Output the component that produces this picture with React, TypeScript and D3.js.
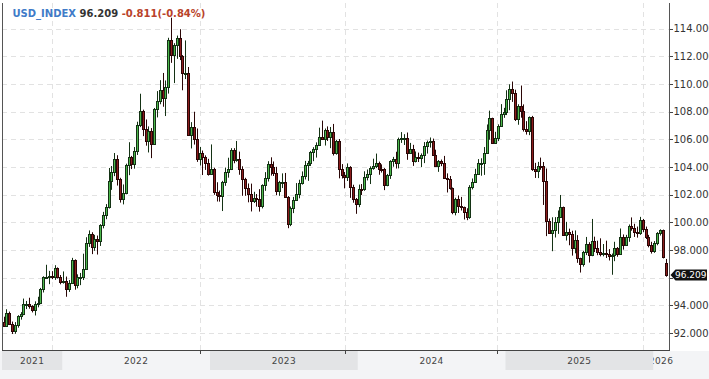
import React from 'react';
import * as d3 from 'd3';

const W = 709;
const H = 379;

// Weekly USD_INDEX candles, Aug 2021 -> Jan 2026
const opens = [
  // 2021
  92.80, 92.52, 93.46, 92.69, 92.13, 92.62, 93.25, 93.38, 94.08, 94.12, 93.94, 93.66, 94.10, 94.20, 95.16, 96.05, 96.08, 96.15, 96.09, 96.70, 96.05,
  // 2022
  95.67, 95.74, 95.17, 95.64, 97.27, 95.48, 96.05, 96.05, 96.62, 98.51, 99.13, 98.21, 98.79, 98.63, 99.79, 100.50, 101.12, 102.96, 103.66, 104.56, 103.15, 101.66, 102.14, 104.15, 104.69, 104.21, 105.14, 107.01, 108.07, 106.73, 105.85, 106.61, 105.66, 108.16, 108.80, 109.54, 109.00, 109.76, 113.19, 112.12, 112.80, 113.30, 111.99, 110.76, 110.80, 106.30, 106.92, 106.00, 104.55, 104.99, 104.73, 104.30,
  // 2023
  103.52, 103.89, 102.20, 101.99, 101.92, 102.92, 103.63, 103.87, 105.22, 104.52, 104.58, 103.86, 103.12, 102.51, 102.08, 101.55, 101.78, 101.66, 101.21, 102.68, 103.20, 104.20, 104.02, 103.56, 102.26, 102.91, 102.91, 101.87, 99.91, 101.07, 101.62, 102.02, 102.85, 103.38, 104.15, 104.26, 105.06, 105.32, 105.58, 106.17, 106.04, 106.66, 106.16, 106.56, 105.02, 105.86, 103.87, 103.39, 103.27, 104.01, 102.56, 101.71,
  // 2024
  101.33, 102.42, 102.39, 103.29, 103.47, 103.92, 104.10, 104.28, 103.89, 103.86, 102.71, 103.43, 104.43, 104.55, 104.30, 106.04, 106.09, 106.09, 105.03, 105.30, 104.46, 104.72, 104.67, 104.89, 105.55, 105.80, 105.87, 104.88, 104.09, 104.40, 104.32, 103.21, 103.14, 102.45, 100.72, 101.70, 101.18, 101.11, 100.73, 100.38, 102.52, 102.90, 103.49, 104.26, 104.28, 104.99, 106.69, 107.55, 105.74, 106.06, 106.99, 107.80,
  // 2025
  108.00, 108.92, 109.65, 109.35, 107.44, 108.37, 108.04, 106.71, 106.62, 107.61, 103.84, 103.72, 104.09, 104.04, 103.02, 100.10, 99.23, 99.47, 100.03, 100.42, 101.09, 99.11, 99.33, 99.19, 98.18, 98.71, 97.40, 96.97, 97.85, 98.46, 97.65, 98.69, 98.18, 97.85, 97.72, 97.77, 97.73, 97.55, 97.65, 98.15, 97.72, 98.98, 98.40, 98.94, 99.75, 99.60, 99.30, 99.20, 100.15, 99.50, 98.95, 98.35,
  // 2026
  97.95, 98.50, 99.20, 99.42, 97.10,
];

const highs = [
  93.19, 93.73, 93.56, 92.84, 92.80, 93.30, 93.52, 94.50, 94.33, 94.56, 94.02, 94.30, 94.63, 95.27, 96.11, 96.94, 96.50, 96.48, 96.91, 96.75, 96.20,
  96.46, 96.09, 95.84, 97.44, 97.33, 96.25, 96.35, 97.74, 98.93, 99.42, 99.29, 99.10, 99.05, 99.87, 100.76, 101.32, 103.93, 104.07, 105.01, 104.85, 103.22, 102.74, 104.24, 105.79, 104.80, 105.44, 107.27, 109.29, 108.14, 107.43, 106.93, 106.81, 108.26, 109.48, 110.27, 110.79, 110.25, 113.33, 114.78, 112.94, 113.49, 113.95, 112.08, 113.14, 111.22, 107.24, 107.99, 106.78, 105.45, 105.19, 104.84, 104.59,
  105.63, 103.95, 102.90, 102.30, 103.00, 103.96, 104.67, 105.36, 105.36, 105.88, 105.11, 104.05, 103.22, 102.81, 102.80, 102.21, 102.05, 102.40, 102.75, 103.63, 104.42, 104.70, 104.40, 104.01, 103.00, 103.54, 103.57, 101.90, 101.15, 101.84, 102.84, 103.08, 103.68, 104.44, 104.44, 105.16, 105.43, 105.78, 106.84, 107.35, 106.78, 106.93, 106.89, 107.11, 105.95, 106.02, 104.21, 103.64, 104.26, 104.06, 102.72, 101.76,
  102.73, 102.77, 103.69, 103.82, 104.05, 104.60, 104.97, 104.39, 104.19, 103.92, 103.50, 104.49, 104.73, 105.10, 106.12, 106.52, 106.37, 106.49, 105.74, 105.60, 105.12, 105.04, 104.98, 105.80, 105.91, 106.13, 106.05, 105.25, 104.50, 104.54, 104.80, 103.54, 103.35, 102.52, 101.78, 101.95, 101.84, 101.14, 101.02, 102.69, 103.17, 103.87, 104.57, 104.63, 105.44, 107.07, 108.07, 107.56, 106.54, 107.08, 108.54, 108.27,
  109.54, 109.97, 110.17, 109.58, 108.53, 109.88, 108.52, 107.31, 107.65, 107.69, 104.30, 104.37, 104.68, 104.36, 103.89, 100.28, 100.37, 100.38, 100.86, 101.98, 101.14, 100.04, 99.55, 99.40, 99.42, 99.08, 97.45, 97.95, 98.95, 98.57, 100.25, 98.97, 98.68, 98.85, 98.44, 98.68, 98.07, 97.75, 98.60, 98.22, 99.56, 99.13, 99.10, 99.85, 100.36, 99.90, 99.70, 100.40, 100.25, 99.70, 99.10, 98.60,
  98.65, 99.30, 99.50, 99.48, 97.36,
];

const lows = [
  92.48, 92.47, 92.62, 91.94, 91.96, 92.40, 92.98, 93.30, 93.74, 93.77, 93.50, 93.28, 93.87, 94.10, 94.94, 95.96, 95.54, 95.90, 95.85, 95.95, 95.53,
  95.58, 94.63, 94.98, 95.55, 95.14, 95.24, 95.47, 95.84, 96.60, 98.23, 97.71, 97.95, 97.68, 98.30, 99.57, 100.23, 101.00, 102.35, 103.34, 102.66, 101.43, 101.30, 102.03, 103.41, 103.85, 103.88, 104.87, 106.88, 106.23, 105.54, 105.05, 104.64, 105.60, 107.58, 108.53, 108.35, 107.68, 109.30, 111.52, 110.06, 111.81, 111.72, 109.54, 110.35, 106.27, 105.34, 105.62, 104.37, 104.11, 103.42, 103.79, 103.38,
  103.48, 101.99, 101.51, 101.50, 100.82, 102.64, 103.23, 103.78, 104.27, 104.38, 103.44, 101.92, 101.92, 101.45, 100.79, 101.40, 101.14, 100.78, 101.01, 102.28, 102.95, 103.38, 103.35, 101.97, 101.92, 102.48, 101.84, 99.58, 99.73, 100.67, 101.60, 101.74, 102.73, 103.10, 103.00, 104.07, 104.42, 104.68, 105.52, 106.02, 105.55, 105.88, 105.36, 104.83, 104.89, 103.18, 103.17, 102.46, 102.99, 101.77, 101.42, 100.62,
  101.10, 101.98, 102.28, 103.03, 102.77, 103.80, 103.92, 103.44, 103.60, 102.33, 102.61, 103.14, 104.02, 103.89, 103.90, 105.74, 105.59, 104.52, 104.96, 104.08, 104.33, 104.36, 103.99, 104.28, 104.97, 105.40, 104.82, 104.08, 103.65, 104.06, 103.17, 102.16, 102.36, 100.59, 100.51, 100.68, 100.86, 100.21, 100.16, 100.26, 102.38, 102.86, 103.45, 103.37, 103.43, 104.98, 105.97, 105.72, 105.69, 105.87, 106.95, 107.55,
  107.75, 108.10, 108.70, 107.32, 107.05, 107.56, 106.56, 106.34, 106.30, 103.72, 103.21, 103.20, 103.80, 101.26, 99.01, 99.20, 97.92, 98.91, 99.17, 100.39, 99.05, 98.69, 98.35, 97.60, 97.77, 97.08, 96.38, 96.81, 97.64, 97.10, 97.56, 97.86, 97.63, 97.55, 97.55, 97.43, 97.25, 96.22, 97.20, 97.52, 97.65, 98.03, 98.33, 98.60, 99.40, 98.95, 98.90, 99.10, 99.30, 98.80, 98.20, 97.75,
  97.80, 98.35, 99.05, 97.40, 96.08,
];

const closes = [
  92.52, 93.46, 92.69, 92.13, 92.62, 93.25, 93.38, 94.08, 94.12, 93.94, 93.66, 94.10, 94.20, 95.16, 96.05, 96.08, 96.15, 96.09, 96.70, 96.05, 95.67,
  95.74, 95.17, 95.64, 97.27, 95.48, 96.05, 96.05, 96.62, 98.51, 99.13, 98.21, 98.79, 98.63, 99.79, 100.50, 101.12, 102.96, 103.66, 104.56, 103.15, 101.66, 102.14, 104.15, 104.69, 104.21, 105.14, 107.01, 108.07, 106.73, 105.85, 106.61, 105.66, 108.16, 108.80, 109.54, 109.00, 109.76, 113.19, 112.12, 112.80, 113.30, 111.99, 110.76, 110.80, 106.30, 106.92, 106.00, 104.55, 104.99, 104.73, 104.30, 103.52,
  103.89, 102.20, 101.99, 101.92, 102.92, 103.63, 103.87, 105.22, 104.52, 104.58, 103.86, 103.12, 102.51, 102.08, 101.55, 101.78, 101.66, 101.21, 102.68, 103.20, 104.20, 104.02, 103.56, 102.26, 102.91, 102.91, 101.87, 99.91, 101.07, 101.62, 102.02, 102.85, 103.38, 104.15, 104.26, 105.06, 105.32, 105.58, 106.17, 106.04, 106.66, 106.16, 106.56, 105.02, 105.86, 103.87, 103.39, 103.27, 104.01, 102.56, 101.71, 101.33,
  102.42, 102.39, 103.29, 103.47, 103.92, 104.10, 104.28, 103.89, 103.86, 102.71, 103.43, 104.43, 104.55, 104.30, 106.04, 106.09, 106.09, 105.03, 105.30, 104.46, 104.72, 104.67, 104.89, 105.55, 105.80, 105.87, 104.88, 104.09, 104.40, 104.32, 103.21, 103.14, 102.45, 100.72, 101.70, 101.18, 101.11, 100.73, 100.38, 102.52, 102.90, 103.49, 104.26, 104.28, 104.99, 106.69, 107.55, 105.74, 106.06, 106.99, 107.80, 108.00,
  108.92, 109.65, 109.35, 107.44, 108.37, 108.04, 106.71, 106.62, 107.61, 103.84, 103.72, 104.09, 104.04, 103.02, 100.10, 99.23, 99.47, 100.03, 100.42, 101.09, 99.11, 99.33, 99.19, 98.18, 98.71, 97.40, 96.97, 97.85, 98.46, 97.65, 98.69, 98.18, 97.85, 97.72, 97.77, 97.73, 97.55, 97.65, 98.15, 97.72, 98.98, 98.40, 98.94, 99.75, 99.60, 99.30, 99.20, 100.15, 99.50, 98.95, 98.35, 97.95,
  98.50, 99.20, 99.42, 97.50, 96.209,
];

const yTicks = [92, 94, 96, 98, 100, 102, 104, 106, 108, 110, 112, 114];
const yearLabels = ['2021', '2022', '2023', '2024', '2025', '2026'];
const yearStartIdx = [0, 21, 73, 125, 177, 229];
const vGridIdx = [17, 69, 120, 173.5, 225];

const symbol = 'USD_INDEX';
const lastPrice = '96.209';
const change = '-0.811(-0.84%)';

const PL = 2, PR = 669, PT = 3, PB = 350;

export default function App() {
  const n = closes.length;
  const x = d3.scaleLinear().domain([0, n - 1]).range([4, 666]);
  const y = d3.scaleLinear().domain([92, 114]).range([333.2, 28.5]);
  const fmt = d3.format('.3f');

  const bands = yearLabels.map((lab, k) => {
    const s = yearStartIdx[k];
    const x0 = k === 0 ? PL : (x(s - 1) + x(s)) / 2;
    const last = k === yearLabels.length - 1;
    const x1 = last ? PR : (x(yearStartIdx[k + 1] - 1) + x(yearStartIdx[k + 1])) / 2;
    return { lab, x0, x1, clipX1: last ? W : x1, dark: k % 2 === 0 };
  });

  const lastY = y(closes[n - 1]);

  return (
    <div style={{ position: 'absolute', left: 0, top: 0 }}>
      <svg width={W} height={H} style={{ display: 'block', fontFamily: 'DejaVu Sans' }}>
        <rect x={0} y={0} width={W} height={H} fill="#ffffff" />
        <rect x={0} y={PB + 1} width={W} height={H - PB - 1} fill="#f3f4f6" />
        <defs>
          {bands.map((b, k) => (
            <clipPath id={`band${k}`} key={k}>
              <rect x={b.x0} y={PB + 1} width={b.clipX1 - b.x0} height={20} />
            </clipPath>
          ))}
          <clipPath id="plotclip">
            <rect x={PL} y={0} width={PR - PL} height={PB} />
          </clipPath>
        </defs>

        {/* grid */}
        {yTicks.map((t) => (
          <line key={`hg${t}`} x1={PL} x2={PR} y1={Math.round(y(t)) + 0.5} y2={Math.round(y(t)) + 0.5}
            stroke="#e2e2e2" strokeDasharray="5,4" />
        ))}
        {vGridIdx.map((g) => (
          <line key={`vg${g}`} x1={Math.round(x(g)) + 0.5} x2={Math.round(x(g)) + 0.5} y1={PT} y2={PB}
            stroke="#e2e2e2" strokeDasharray="5,4" />
        ))}

        {/* candles */}
        <g clipPath="url(#plotclip)">
          {closes.map((c, i) => {
            const o = opens[i];
            const up = c >= o;
            const L = Math.round(x(i) - 1.5);
            const top = Math.round(y(Math.max(o, c)));
            const bot = Math.round(y(Math.min(o, c)));
            const stroke = up ? '#143214' : '#2a0606';
            return (
              <g key={i}>
                <line x1={L + 1.5} x2={L + 1.5} y1={y(highs[i])} y2={y(lows[i])} stroke={stroke} strokeWidth={1} />
                <rect x={L + 0.5} y={top + 0.5} width={2} height={Math.max(1, bot - top)}
                  fill={up ? '#4cb84c' : '#8b1c1c'} stroke={stroke} strokeWidth={1} />
              </g>
            );
          })}
        </g>

        {/* frame */}
        <line x1={PL + 0.5} x2={PL + 0.5} y1={PT} y2={PB + 1} stroke="#555" />
        <line x1={PR + 0.5} x2={PR + 0.5} y1={PT} y2={PB + 1} stroke="#555" />
        <line x1={PL} x2={PR + 1} y1={PB + 0.5} y2={PB + 0.5} stroke="#444" />

        {/* y axis */}
        {yTicks.map((t) => (
          <g key={`yt${t}`}>
            <line x1={PR + 1} x2={PR + 4} y1={Math.round(y(t)) + 0.5} y2={Math.round(y(t)) + 0.5} stroke="#444" />
            {Math.abs(y(t) - lastY) > 9 && (
              <text x={PR + 4.5} y={y(t) + 3.6} fontSize={10} fill="#333">{fmt(t)}</text>
            )}
          </g>
        ))}

        {/* x axis bands */}
        {bands.map((b, k) => (
          <g key={`b${k}`}>
            {b.dark && <rect x={b.x0} y={PB + 1} width={b.x1 - b.x0} height={19} fill="#e3e4e6" />}
            <text x={(b.x0 + b.x1) / 2} y={364} fontSize={9} letterSpacing={0.3} fill="#444" textAnchor="middle"
              clipPath={`url(#band${k})`}>{b.lab}</text>
          </g>
        ))}
        {vGridIdx.slice(1, 4).map((g) => (
          <line key={`xt${g}`} x1={Math.round(x(g)) + 0.5} x2={Math.round(x(g)) + 0.5} y1={PB} y2={PB + 4} stroke="#444" />
        ))}

        {/* last price marker */}
        <path d={`M${PR + 1.5},${lastY} L${PR + 6.5},${lastY - 5.5} L${W - 2},${lastY - 5.5} L${W - 2},${lastY + 5.5} L${PR + 6.5},${lastY + 5.5} Z`}
          fill="#111" />
        <text x={PR + 6} y={lastY + 3.3} fontSize={9} fill="#fff">{lastPrice}</text>

        {/* title */}
        <text x={12.5} y={17.3} fontSize={10} fontWeight="bold">
          <tspan fill="#3f7bc8">{symbol}</tspan>
          <tspan fill="#333"> {lastPrice}</tspan>
          <tspan fill="#b9432b"> {change}</tspan>
        </text>
      </svg>
    </div>
  );
}
